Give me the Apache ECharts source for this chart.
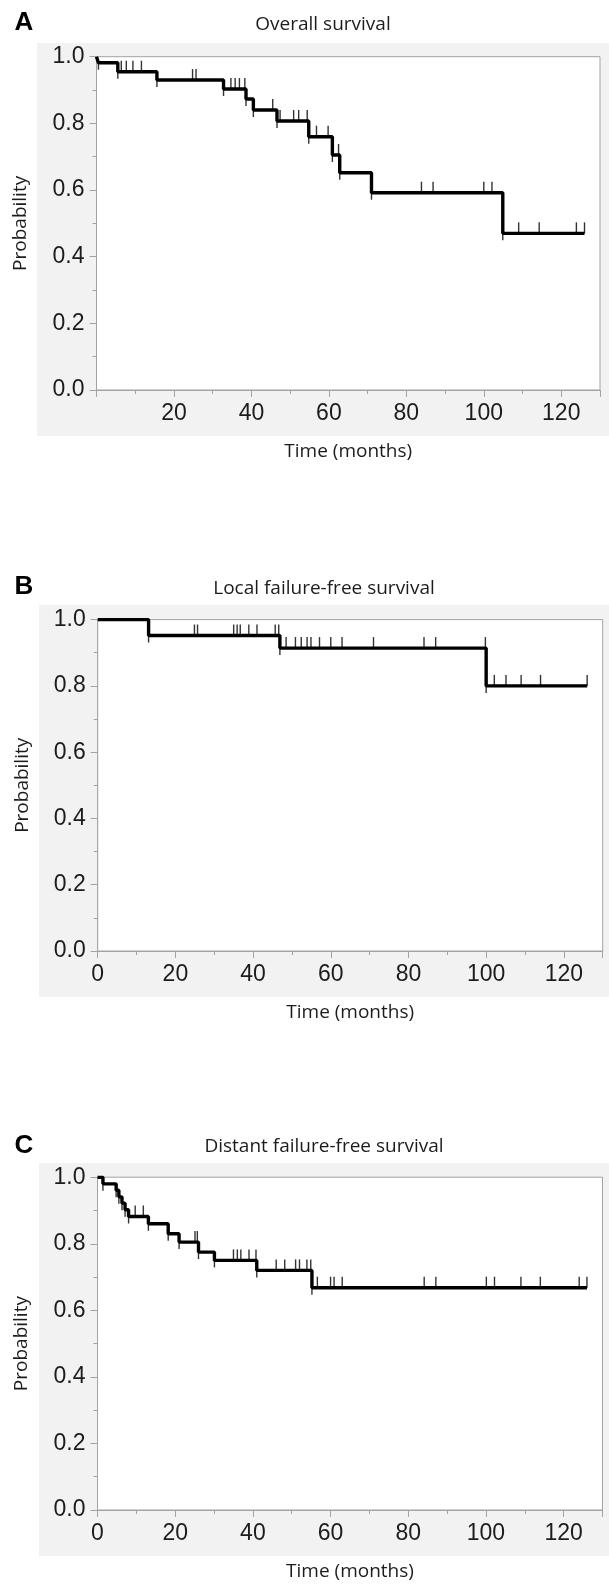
<!DOCTYPE html>
<html>
<head>
<meta charset="utf-8">
<script src="https://cdn.jsdelivr.net/npm/echarts@6/dist/echarts.min.js"></script>
<style>
html,body{margin:0;padding:0;background:#ffffff;}
#chart{width:609px;height:1587px;}
</style>
</head>
<body>
<div id="chart"></div>
<script>
// ---------- Data ----------
const panelLetters = ['A', 'B', 'C'];
const panelTitles = ['Overall survival', 'Local failure-free survival', 'Distant failure-free survival'];
const xAxisName = 'Time (months)';
const yAxisName = 'Probability';

// Overall survival: step points (time, survival after the step)
const osTimes = [0, 0.5, 5.5, 15.6, 32.8, 38.6, 40.5, 46.6, 54.8, 60.9, 62.8, 71.0, 104.9, 126.0];
const osSurv  = [1.0, 0.982, 0.955, 0.930, 0.903, 0.873, 0.840, 0.807, 0.760, 0.705, 0.652, 0.592, 0.470, 0.470];
const osCensored = [6.4, 7.7, 9.4, 11.6, 24.8, 25.7, 34.7, 35.8, 36.9, 38.3, 45.5, 47.4, 50.9, 52.2, 54.4, 56.8, 59.8, 62.5, 83.9, 86.9, 100.0, 102.1, 109.0, 114.3, 123.9, 126.0];

// Local failure-free survival
const lfsTimes = [0, 13.1, 46.9, 100.0, 126.0];
const lfsSurv  = [1.0, 0.952, 0.914, 0.800, 0.800];
const lfsCensored = [24.9, 25.7, 35.0, 35.9, 36.7, 38.9, 41.0, 45.7, 46.6, 48.5, 50.9, 52.4, 53.9, 54.9, 57.1, 60.0, 62.9, 71.0, 84.0, 87.0, 99.8, 102.1, 105.1, 109.0, 114.0, 126.0];

// Distant failure-free survival
const dfsTimes = [0, 1.4, 4.8, 5.5, 6.3, 7.1, 8.0, 13.1, 18.2, 21.0, 26.0, 30.1, 41.0, 55.2, 126.0];
const dfsSurv  = [1.0, 0.980, 0.961, 0.941, 0.922, 0.902, 0.882, 0.860, 0.830, 0.805, 0.775, 0.750, 0.720, 0.668, 0.668];
const dfsCensored = [9.7, 11.8, 25.1, 25.7, 35.0, 36.0, 36.9, 39.0, 40.8, 46.0, 48.2, 51.0, 52.0, 53.9, 54.9, 56.6, 60.0, 60.9, 63.0, 84.1, 87.1, 100.1, 102.2, 109.0, 114.0, 124.0, 126.0];

const xTickValues = [0, 20, 40, 60, 80, 100, 120];
const yTickValues = [0.0, 0.2, 0.4, 0.6, 0.8, 1.0];

// ---------- Layout ----------
const curves = [
  {times: osTimes, surv: osSurv, cens: osCensored, showZero: false},
  {times: lfsTimes, surv: lfsSurv, cens: lfsCensored, showZero: true},
  {times: dfsTimes, surv: dfsSurv, cens: dfsCensored, showZero: true}
];
const grids = [
  {left: 96.5, top: 56.7, width: 503.5, height: 333.3},
  {left: 97.7, top: 619.6, width: 505, height: 331.4},
  {left: 97.5, top: 1177.2, width: 505, height: 332.8}
];
const panels = [
  {x: 37, y: 43, w: 572, h: 393, letterY: 22.5, titleY: 25},
  {x: 39, y: 605, w: 570, h: 392, letterY: 586.5, titleY: 589},
  {x: 39, y: 1163, w: 570, h: 393, letterY: 1145.5, titleY: 1147}
];

const AX = '#a3a3a3';
const TXT = '#1c1c1c';

function survAt(times, surv, t) {
  let v = surv[0];
  for (let i = 0; i < times.length; i++) { if (times[i] <= t) v = surv[i]; }
  return v;
}

const xAxes = [], yAxes = [], series = [], graphics = [];
curves.forEach((c, i) => {
  xAxes.push({
    gridIndex: i, type: 'value', min: 0, max: 130, interval: 20,
    axisLine: {show: true, lineStyle: {color: AX, width: 1}},
    axisTick: {show: true, length: 7, lineStyle: {color: AX}},
    minorTick: {show: true, splitNumber: 2, length: 4, lineStyle: {color: AX}},
    splitLine: {show: false},
    axisLabel: {
      fontSize: 23, color: TXT, fontFamily: 'Liberation Sans', margin: 12,
      showMaxLabel: false,
      formatter: v => (xTickValues.indexOf(v) < 0 || (v === 0 && !c.showZero)) ? '' : String(v)
    },
    name: xAxisName, nameLocation: 'middle', nameGap: 52,
    nameTextStyle: {fontSize: 19, color: TXT, fontFamily: 'Open Sans'}
  });
  yAxes.push({
    gridIndex: i, type: 'value', min: 0, max: 1, interval: 0.2,
    axisLine: {show: true, lineStyle: {color: AX, width: 1}},
    axisTick: {show: true, length: 7, lineStyle: {color: AX}},
    minorTick: {show: true, splitNumber: 2, length: 4, lineStyle: {color: AX}},
    splitLine: {show: false},
    axisLabel: {
      fontSize: 23, color: TXT, fontFamily: 'Liberation Sans', margin: 12,
      formatter: v => v.toFixed(1)
    },
    name: yAxisName, nameLocation: 'middle', nameGap: 66,
    nameTextStyle: {fontSize: 19, color: TXT, fontFamily: 'Open Sans'}
  });
  // survival step curve
  series.push({
    type: 'line', xAxisIndex: i, yAxisIndex: i, step: 'end',
    data: c.times.map((t, k) => [t, c.surv[k]]),
    symbol: 'none', lineStyle: {color: '#000', width: 3.4}, silent: true, z: 3
  });
  // censoring tick marks (above the line)
  series.push({
    type: 'scatter', xAxisIndex: i, yAxisIndex: i,
    data: c.cens.map(t => [t, survAt(c.times, c.surv, t)]),
    symbol: 'rect', symbolSize: [1.4, 11], symbolOffset: [0, -5.5],
    itemStyle: {color: '#000'}, silent: true, z: 4
  });
  // event marks (short ticks below each drop)
  const ev = [];
  for (let k = 1; k < c.times.length - 1; k++) ev.push([c.times[k], c.surv[k]]);
  series.push({
    type: 'scatter', xAxisIndex: i, yAxisIndex: i,
    data: ev, symbol: 'rect', symbolSize: [1.4, 7], symbolOffset: [0, 3.5],
    itemStyle: {color: '#000'}, silent: true, z: 4
  });

  const p = panels[i];
  graphics.push({
    type: 'rect', z: -10, silent: true,
    shape: {x: p.x, y: p.y, width: p.w, height: p.h},
    style: {fill: '#f2f2f2'}
  });
  graphics.push({
    type: 'text', x: 24, y: p.letterY, silent: true,
    style: {text: panelLetters[i], fontSize: 26, fontWeight: 'bold', fontFamily: 'Liberation Sans',
            fill: '#000', align: 'center', verticalAlign: 'middle'}
  });
  graphics.push({
    type: 'text', x: p.x + p.w / 2, y: p.titleY, silent: true,
    style: {text: panelTitles[i], fontSize: 19, fontFamily: 'Open Sans',
            fill: TXT, align: 'center', verticalAlign: 'middle'}
  });
});

const chart = echarts.init(document.getElementById('chart'), null, {renderer: 'canvas'});
chart.setOption({
  backgroundColor: '#ffffff',
  animation: false,
  grid: grids.map(g => Object.assign({show: true, backgroundColor: '#ffffff', borderColor: AX, borderWidth: 1, z: 1}, g)),
  xAxis: xAxes,
  yAxis: yAxes,
  series: series,
  graphic: {elements: graphics}
});
</script>
</body>
</html>
